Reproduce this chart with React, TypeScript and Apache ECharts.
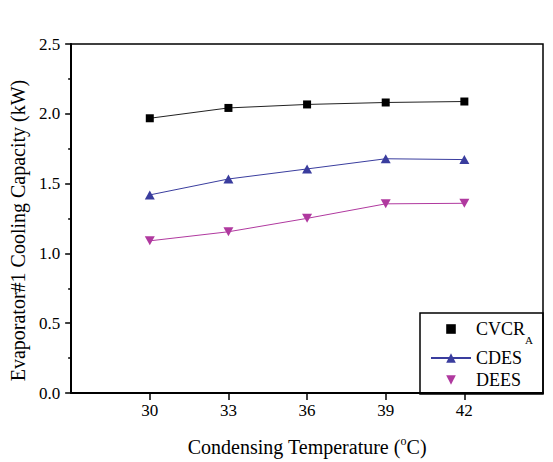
import React, { useEffect, useRef } from "react";
import * as echarts from "echarts";

const temperatures = [30, 33, 36, 39, 42];
const xTicks = [30, 33, 36, 39, 42];
const cvcrValues = [1.968, 2.042, 2.067, 2.081, 2.088];
const cdesValues = [1.419, 1.533, 1.605, 1.678, 1.672];
const deesValues = [1.09, 1.155, 1.251, 1.355, 1.359];
const seriesNames = ["CVCR_A", "CDES", "DEES"];

const FONT = "'Liberation Serif', 'Times New Roman', Times, serif";

const labelRich = {
  t: { fontFamily: FONT, fontSize: 17, color: "#000" },
};

export default function App() {
  const ref = useRef<HTMLDivElement>(null);
  useEffect(() => {
    if (!ref.current) return;
    const chart = echarts.init(ref.current, null, { renderer: "svg" });
    const pts = (vals: number[]) => temperatures.map((t, i) => [t, vals[i]]);
    chart.setOption({
      animation: false,
      backgroundColor: "#fff",
      textStyle: { fontFamily: FONT, color: "#000" },
      grid: {
        left: 71,
        top: 44,
        right: 10,
        bottom: 68,
        show: true,
        borderColor: "#000",
        borderWidth: 1.5,
        backgroundColor: "transparent",
      },
      xAxis: {
        type: "value",
        min: 27,
        max: 45,
        interval: 3,
        name: "{a|Condensing Temperature (}{s|o}{a|C)}",
        nameLocation: "middle",
        nameGap: 42,
        nameTextStyle: {
          fontFamily: FONT,
          rich: {
            a: { fontFamily: FONT, fontSize: 20, color: "#000", lineHeight: 24, verticalAlign: "middle" },
            s: { fontFamily: FONT, fontSize: 12, color: "#000", lineHeight: 24, verticalAlign: "top" },
          },
        },
        axisLine: { show: true, onZero: false, lineStyle: { color: "#000", width: 2 } },
        axisTick: {
          show: true,
          inside: false,
          length: 7,
          customValues: xTicks,
          lineStyle: { color: "#000", width: 1.5 },
        },
        axisLabel: {
          customValues: xTicks,
          margin: 9,
          fontFamily: FONT,
          fontSize: 17,
          color: "#000",
          formatter: (v: number) => "{t|" + v + "}",
          rich: labelRich,
        },
        splitLine: { show: false },
      },
      yAxis: {
        type: "value",
        min: 0,
        max: 2.5,
        interval: 0.5,
        name: "Evaporator#1 Cooling Capacity (kW)",
        nameLocation: "middle",
        nameGap: 41,
        nameTextStyle: {
          fontFamily: FONT,
          fontSize: 20,
          color: "#000",
          padding: [0, 24, 0, 0],
        },
        axisLine: { show: true, onZero: false, lineStyle: { color: "#000", width: 2 } },
        axisTick: { show: true, inside: false, length: 6, lineStyle: { color: "#000", width: 1.5 } },
        minorTick: { show: true, splitNumber: 2, length: 3, lineStyle: { color: "#000", width: 1.5 } },
        axisLabel: {
          margin: 11,
          fontFamily: FONT,
          fontSize: 17,
          color: "#000",
          formatter: (v: number) => "{t|" + v.toFixed(1) + "}",
          rich: labelRich,
        },
        splitLine: { show: false },
      },
      graphic: [
        {
          type: "rect",
          shape: { x: 420, y: 313, width: 123, height: 81 },
          style: { fill: "none", stroke: "#000", lineWidth: 1.5 },
          z: 10,
        },
      ],
      legend: {
        orient: "vertical",
        left: 430,
        top: 320,
        itemWidth: 40,
        itemHeight: 12,
        itemGap: 4,
        padding: 0,
        data: [
          { name: seriesNames[0], lineStyle: { opacity: 0 } },
          { name: seriesNames[1] },
          { name: seriesNames[2], lineStyle: { opacity: 0 } },
        ],
        formatter: (name: string) =>
          name === "CVCR_A" ? "{n|CVCR}{s|A}" : "{m|" + name + "}",
        textStyle: {
          fontFamily: FONT,
          fontSize: 18,
          color: "#000",
          rich: {
            n: { fontFamily: FONT, fontSize: 18, color: "#000", lineHeight: 32, verticalAlign: "middle" },
            s: { fontFamily: FONT, fontSize: 11, color: "#000", lineHeight: 20, verticalAlign: "bottom" },
            m: { fontFamily: FONT, fontSize: 18, color: "#000", lineHeight: 18 },
          },
        },
      },
      series: [
        {
          name: seriesNames[0],
          type: "line",
          data: pts(cvcrValues),
          symbol: "rect",
          symbolSize: 8,
          itemStyle: { color: "#000" },
          lineStyle: { color: "#222", width: 1 },
        },
        {
          name: seriesNames[1],
          type: "line",
          data: pts(cdesValues),
          symbol: "triangle",
          symbolSize: [10, 9],
          itemStyle: { color: "#3a3d9e" },
          lineStyle: { color: "#3a3d9e", width: 1 },
        },
        {
          name: seriesNames[2],
          type: "line",
          data: pts(deesValues),
          symbol: "triangle",
          symbolRotate: 180,
          symbolSize: [10, 9],
          itemStyle: { color: "#b0399f" },
          lineStyle: { color: "#b0399f", width: 1 },
        },
      ],
    });
    return () => chart.dispose();
  }, []);
  return (
    <div
      ref={ref}
      style={{ position: "fixed", left: 0, top: 0, width: 553, height: 462, background: "#fff" }}
    />
  );
}
